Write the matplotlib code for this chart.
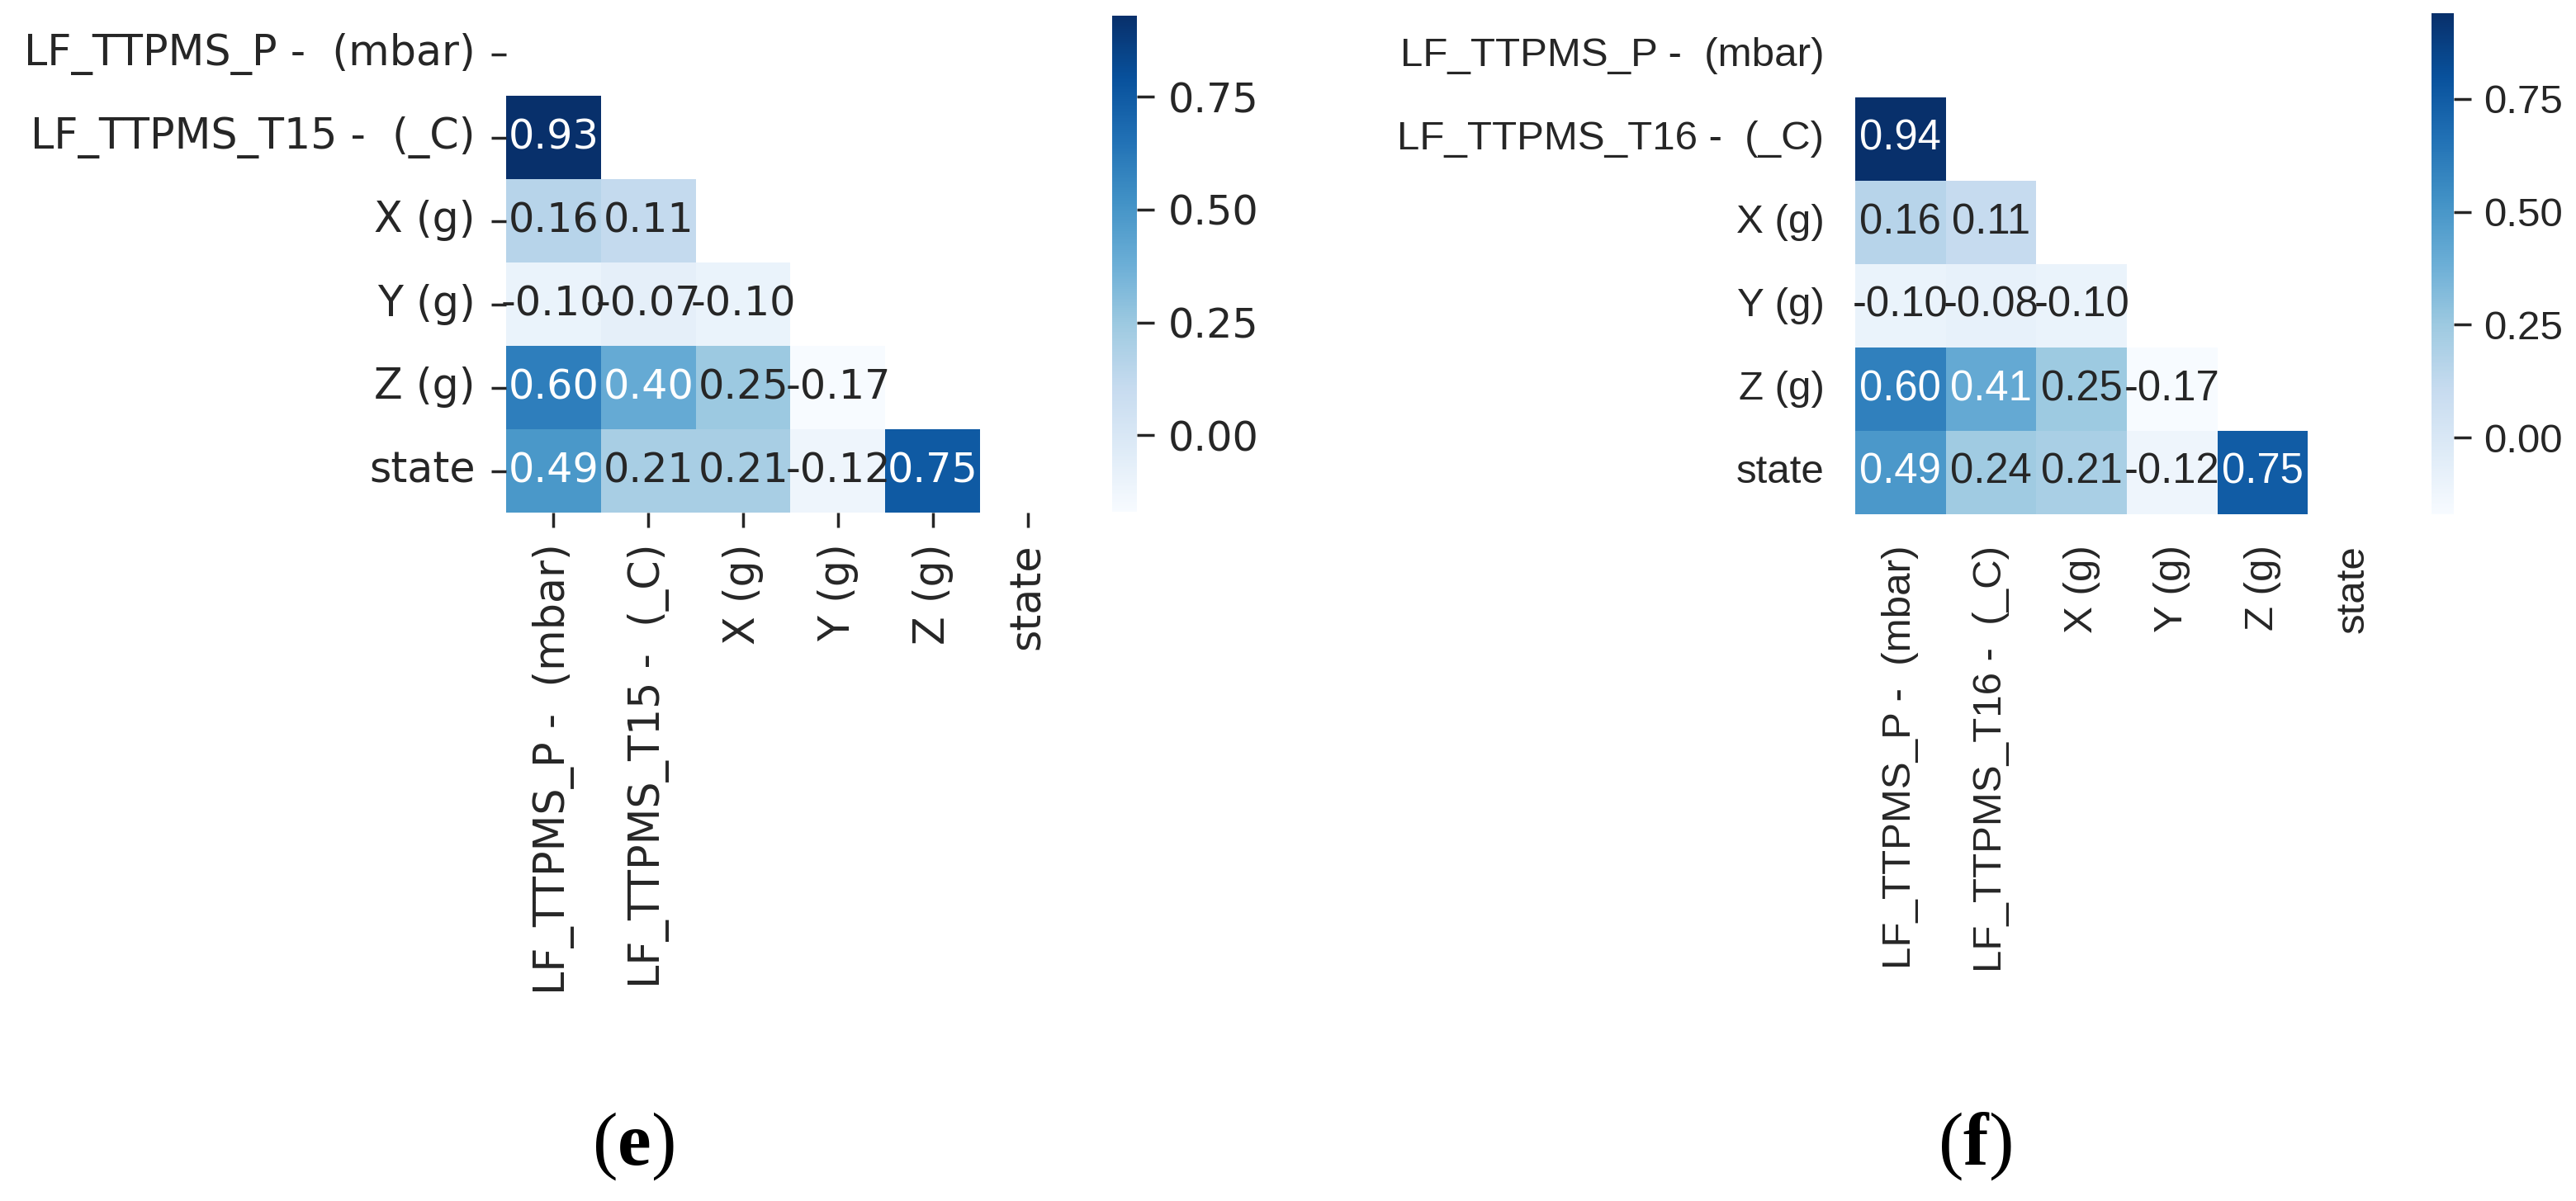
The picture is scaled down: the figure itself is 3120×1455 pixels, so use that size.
import numpy as np
import pandas as pd
import matplotlib
matplotlib.use("Agg")
import matplotlib.pyplot as plt
import seaborn as sns

# ---------------- data ----------------
labels_e = ["LF_TTPMS_P -  (mbar)", "LF_TTPMS_T15 -  (_C)", "X (g)", "Y (g)", "Z (g)", "state"]
labels_f = ["LF_TTPMS_P -  (mbar)", "LF_TTPMS_T16 -  (_C)", "X (g)", "Y (g)", "Z (g)", "state"]

# lower triangle (below diagonal), row by row
lower_e = [
    [0.93],
    [0.16, 0.11],
    [-0.10, -0.07, -0.10],
    [0.60, 0.40, 0.25, -0.17],
    [0.49, 0.21, 0.21, -0.12, 0.75],
]
lower_f = [
    [0.94],
    [0.16, 0.11],
    [-0.10, -0.08, -0.10],
    [0.60, 0.41, 0.25, -0.17],
    [0.49, 0.24, 0.21, -0.12, 0.75],
]
cbar_ticks = [0.00, 0.25, 0.50, 0.75]
cbar_ticklabels = ["0.00", "0.25", "0.50", "0.75"]
captions = ["e", "f"]


def build(lower, labels):
    n = len(labels)
    m = np.eye(n)
    for i, row in enumerate(lower, start=1):
        for j, v in enumerate(row):
            m[i, j] = v
            m[j, i] = v
    return pd.DataFrame(m, index=labels, columns=labels)


left_font, left_size = "DejaVu Sans", 36.5
right_font, right_size = "Liberation Sans", 35.5

plt.rcParams["mathtext.fontset"] = "custom"
plt.rcParams["mathtext.rm"] = "Liberation Serif"
plt.rcParams["mathtext.bf"] = "Liberation Serif:bold"

W, H = 3120, 1455
fig = plt.figure(figsize=(W / 100, H / 100), dpi=100)


def px_axes(x0, y0, x1, y1):
    return fig.add_axes([x0 / W, 1 - y1 / H, (x1 - x0) / W, (y1 - y0) / H])


# ---------------- panel (e) ----------------
ax_e = px_axes(613, 15, 1302, 621)
cax_e = px_axes(1347, 19, 1377, 620)
df_e = build(lower_e, labels_e)
mask = np.triu(np.ones(df_e.shape, dtype=bool))
sns.heatmap(df_e, mask=mask, cmap="Blues", annot=True, fmt=".2f", ax=ax_e,
            cbar_ax=cax_e, annot_kws={"size": 35.5, "family": left_font})
ax_e.set_xlim(0, 6)
ax_e.set_ylim(6, 0)
ax_e.set_xticks(np.arange(6) + 0.5)
ax_e.set_yticks(np.arange(6) + 0.5)
ax_e.set_xticklabels(labels_e, rotation=90, family=left_font, fontsize=left_size)
ax_e.set_yticklabels(labels_e, rotation=0, family=left_font, fontsize=left_size, va="center")
ax_e.tick_params(axis="both", length=13, width=2.5, pad=14, color="#262626")
cax_e.set_yticks(cbar_ticks)
cax_e.set_yticklabels(cbar_ticklabels, family=left_font, fontsize=35.5)
cax_e.tick_params(axis="y", length=15, width=2.5, pad=12, color="#262626")

# ---------------- panel (f) ----------------
ax_f = px_axes(2247, 17, 2905, 623)
cax_f = px_axes(2945, 16, 2972, 623)
df_f = build(lower_f, labels_f)
sns.heatmap(df_f, mask=mask, cmap="Blues", annot=True, fmt=".2f", ax=ax_f,
            cbar_ax=cax_f, annot_kws={"size": right_size + 1, "family": right_font})
ax_f.set_xlim(0, 6)
ax_f.set_ylim(6, 0)
ax_f.set_xticks(np.arange(6) + 0.5)
ax_f.set_yticks(np.arange(6) + 0.5)
ax_f.set_xticklabels(labels_f, rotation=90, family=right_font, fontsize=right_size)
ax_f.set_yticklabels(labels_f, rotation=0, family=right_font, fontsize=right_size, va="center")
ax_f.tick_params(axis="both", length=0, pad=27)
cax_f.set_yticks(cbar_ticks)
cax_f.set_yticklabels(cbar_ticklabels, family=right_font, fontsize=right_size)
cax_f.tick_params(axis="y", length=15, width=2.5, pad=11, color="#262626")

for a in (ax_e, ax_f):
    for t in a.get_xticklabels() + a.get_yticklabels():
        t.set_color("#262626")
for a in (cax_e, cax_f):
    for t in a.get_yticklabels():
        t.set_color("#262626")

# ---------------- captions ----------------
fig.text(767 / W, 1 - 1389 / H, r"($\mathbf{%s}$)" % captions[0], ha="center", va="center",
         fontsize=66, family="Liberation Serif")
fig.text(2392 / W, 1 - 1389 / H, r"($\mathbf{%s}$)" % captions[1], ha="center", va="center",
         fontsize=66, family="Liberation Serif")

fig.savefig("out.png", dpi=100, facecolor="white")
